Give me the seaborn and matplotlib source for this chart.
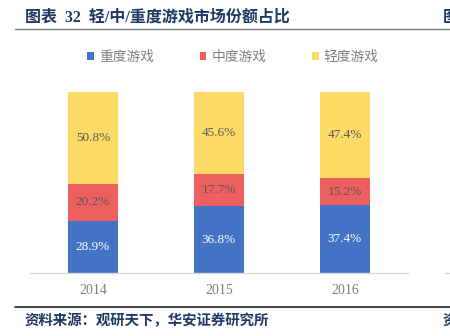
import matplotlib
matplotlib.use("Agg")
import matplotlib.pyplot as plt
import seaborn as sns
import numpy as np
import pandas as pd
from matplotlib.patches import Patch

years = ["2014", "2015", "2016"]
heavy = [28.9, 36.8, 37.4]
medium = [20.2, 17.7, 15.2]
light = [50.8, 45.6, 47.4]
series_names = ["重度游戏", "中度游戏", "轻度游戏"]
colors = ["#4472C4", "#EE5F5F", "#FEDB67"]

title = "图表  32  轻/中/重度游戏市场份额占比"
source = "资料来源：观研天下，华安证券研究所"

sns.set_theme(style="white")
plt.rcParams["font.family"] = ["Liberation Serif", "Noto Sans CJK SC", "DejaVu Sans"]

df = pd.DataFrame({"year": years, "heavy": heavy, "medium": medium, "light": light})
df["c1"] = df["heavy"]
df["c2"] = df["heavy"] + df["medium"]
df["c3"] = df["heavy"] + df["medium"] + df["light"]

fig = plt.figure(figsize=(4.5, 3.36), dpi=100)
ax = fig.add_axes([30/450, 1-273/336, 378/450, 181/336])

for col, c in zip(["c3", "c2", "c1"], [colors[2], colors[1], colors[0]]):
    sns.barplot(data=df, x="year", y=col, color=c, width=0.4, ax=ax,
                saturation=1, edgecolor="none", linewidth=0)

ax.set_xlim(-0.5, 2.5)
ax.set_ylim(0, 100)
ax.set_xlabel("")
ax.set_ylabel("")
ax.set_yticks([])
for s in ["top", "right", "left"]:
    ax.spines[s].set_visible(False)
ax.spines["bottom"].set_color("#D9D9D9")
ax.spines["bottom"].set_linewidth(1)
ax.tick_params(axis="x", length=0, pad=8, labelsize=10, labelcolor="#808080")

for i in range(len(years)):
    segs = [(0, heavy[i], "white"), (heavy[i], medium[i], "#595959"),
            (heavy[i] + medium[i], light[i], "#595959")]
    for b, h, tc in segs:
        ax.text(i, b + h / 2, f"{h:.1f}%", ha="center", va="center",
                fontsize=9.5, color=tc, family="Liberation Serif")

handles = [Patch(facecolor=c, edgecolor="none") for c in colors]
leg = fig.legend(handles, series_names, loc="center", ncol=3,
                 bbox_to_anchor=(233/450, 1-57/336), frameon=False,
                 handlelength=0.5, handleheight=0.5, handletextpad=0.36,
                 columnspacing=3.3, prop={"family": "Noto Sans CJK SC", "size": 9.9})
for t in leg.get_texts():
    t.set_color("#808080")

fig.text(25/450, 1-17/336, title, fontsize=11.5, fontweight="bold", color="#1F3864",
         ha="left", va="center", family=["Liberation Serif", "Noto Sans CJK SC"])
fig.text(443/450, 1-17/336, "图", fontsize=11.5, fontweight="bold", color="#1F3864",
         ha="left", va="center", family="Noto Sans CJK SC")
fig.add_artist(plt.Line2D([15/450, 1], [1-29/336, 1-29/336], color="#808080", linewidth=1))
fig.add_artist(plt.Line2D([445/450, 1], [1-273/336, 1-273/336], color="#D9D9D9", linewidth=1))
fig.add_artist(plt.Line2D([15/450, 1], [1-307/336, 1-307/336], color="#222222", linewidth=1.2))
fig.text(25/450, 1-321/336, source, fontsize=10.4, fontweight="bold", color="#1F3864",
         ha="left", va="center", family="Noto Sans CJK SC")
fig.text(443/450, 1-321/336, "资", fontsize=10.4, fontweight="bold", color="#1F3864",
         ha="left", va="center", family="Noto Sans CJK SC")

fig.savefig("out.png", dpi=100)
